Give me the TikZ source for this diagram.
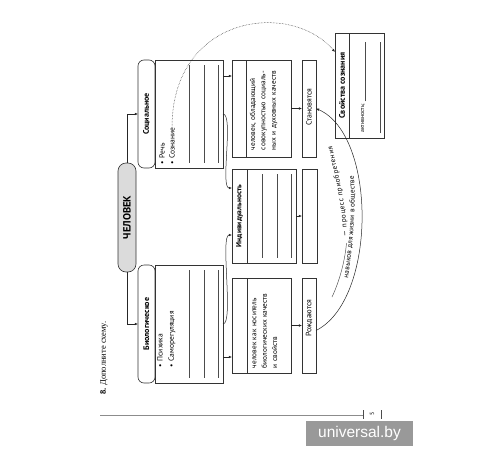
\documentclass[tikz,border=0pt]{standalone}
\usepackage{fontspec}
\setmainfont{PT Sans}
\newfontfamily\seriffont{Liberation Serif}
\newfontfamily\wmfont{Liberation Sans}
\usetikzlibrary{arrows.meta,decorations.text}
\newcommand{\jl}[1]{\makebox[\linewidth][s]{#1}}
\newcommand{\arcfont}{\fontsize{7.2}{8}\selectfont}
\begin{document}
\begin{tikzpicture}[x=1pt,y=-1pt,
  frame/.style={draw=black!80,line width=0.6pt},
  wl/.style={draw=black!70,line width=0.45pt},
  arr/.style={draw=black!85,line width=0.5pt,-{Latex[length=3.2pt,width=2.6pt]}},
  geo/.style={inner sep=0pt,outer sep=0pt,anchor=north west},
  hdr/.style={rotate=90,inner sep=0pt,font=\bfseries\fontsize{8}{9}\selectfont},
  txt/.style={rotate=90,inner sep=0pt,font=\fontsize{7.5}{9}\selectfont},
  body/.style={rotate=90,inner sep=0pt,font=\fontsize{7.3}{10.4}\selectfont,text width=88pt,align=left},
]
\path[use as bounding box, fill=white] (0,0) rectangle (500,450);

% task title
\node[rotate=90,anchor=west,inner sep=0pt,font=\seriffont\fontsize{8.5}{10}\selectfont] (task) at (104,395) {\textbf{8.} Дополните схему.};

% ЧЕЛОВЕК
\node[geo, frame, fill=black!14, rounded corners=8pt, minimum width=18pt, minimum height=109pt] (chel) at (118,163) {};
\node[hdr, font=\bfseries\fontsize{10.5}{12}\selectfont] (chelt) at (chel.center) {ЧЕЛОВЕК};

% Социальное
\node[geo, minimum width=85pt, minimum height=108pt] (soc) at (138,60) {};
\draw[frame] ([xshift=17pt]soc.north west) rectangle (soc.south east);
\draw[frame, rounded corners=6pt] (soc.north west) rectangle ([xshift=17pt]soc.south west);
\node[hdr] (soct) at ([xshift=8.5pt]soc.west) {Социальное};
\node[txt, anchor=west] (rech) at (162,165) {\textbullet\hspace{3pt}Речь};
\node[txt, anchor=west] (soz) at (172,165) {\textbullet\hspace{3pt}Сознание};
\foreach \x in {189,204,218} \draw[wl] (\x,65) -- (\x,163);

% Биологическое
\node[geo, minimum width=85pt, minimum height=118pt] (bio) at (138,265) {};
\draw[frame] ([xshift=17pt]bio.north west) rectangle (bio.south east);
\draw[frame, rounded corners=6pt] (bio.north west) rectangle ([xshift=17pt]bio.south west);
\node[hdr] (biot) at ([xshift=8.5pt]bio.west) {Биологическое};
\node[txt, anchor=west] (psy) at (160,368) {\textbullet\hspace{3pt}Психика};
\node[txt, anchor=west] (samo) at (172,368) {\textbullet\hspace{3pt}Саморегуляция};
\foreach \x in {189,204,218} \draw[wl] (\x,270) -- (\x,378);

% column 2
\node[geo, frame, minimum width=59pt, minimum height=97pt] (top) at (232,60) {};
\draw[frame] ([xshift=14pt]top.north west) -- ([xshift=14pt]top.south west);
\node[body] (topt) at (263.5,106) {\jl{человек, обладающий}\\\jl{совокупностью социаль-}\\\jl{ных и духовных качеств}};

\node[geo, frame, minimum width=64pt, minimum height=94pt] (mid) at (232,169) {};
\draw[frame] ([xshift=15pt]mid.north west) -- ([xshift=15pt]mid.south west);
\node[hdr, font=\bfseries\fontsize{7.5}{9}\selectfont] (midt) at ([xshift=7.5pt]mid.west) {Индивидуальность};
\foreach \x in {262,277,291} \draw[wl] (\x,174) -- (\x,258);

\node[geo, frame, minimum width=59pt, minimum height=95pt] (bot) at (232,278) {};
\draw[frame] ([xshift=15pt]bot.north west) -- ([xshift=15pt]bot.south west);
\node[body] (bott) at (265,324) {\jl{человек как носитель}\\\jl{биологических качеств}\\и свойств};

% column 3
\node[geo, frame, minimum width=14pt, minimum height=97pt] (stan) at (302,60) {};
\node[txt, font=\fontsize{7.8}{9}\selectfont] (stant) at (309,107) {Становятся};
\node[geo, frame, minimum width=15pt, minimum height=94pt] (smid) at (302,169) {};
\node[geo, frame, minimum width=14pt, minimum height=95pt] (rozh) at (302,278) {};
\node[txt, font=\fontsize{7.8}{9}\selectfont] (rozht) at (309,318) {Рождаются};

% Свойства сознания
\node[geo, frame, minimum width=49pt, minimum height=105pt] (svo) at (335,33) {};
\draw[frame] ([xshift=14pt]svo.north west) -- ([xshift=14pt]svo.south west);
\node[hdr, font=\bfseries\fontsize{8}{9}\selectfont] (svot) at ([xshift=7pt]svo.west) {Свойства сознания};
\node[txt, anchor=west, font=\fontsize{5.8}{7}\selectfont] (akt) at (363,133) {активность;};
\draw[wl] ([xshift=2.5pt,yshift=2pt]akt.east) -- (365.5,42);
\draw[wl] (380,133) -- (380,42);

% connectors
\draw[arr] (chel.north) |- (soc.west);
\draw[arr] (chel.south) |- (bio.west);
\draw[arr] ([yshift=38pt]soc.east) -- ([yshift=38pt]soc.east -| top.west);
\draw[arr] ([yshift=-33pt]bio.east) -- ([yshift=-33pt]bio.east -| bot.west);
\draw[arr] (soc.east) .. controls +(11,0) and +(-12,0) .. ([yshift=28pt]mid.west);
\draw[arr] (bio.east) .. controls +(11,0) and +(-12,0) .. ([yshift=-19pt]mid.west);
\draw[arr] (top.east) -- (stan.west);
\draw[arr] (mid.east) -- (smid.west);
\draw[arr] (bot.east) -- (rozh.west);
\draw[arr, densely dotted] ([yshift=1pt]soz.east) .. controls (173,15) and (290,0) .. ([yshift=33.5pt]svo.west);
\draw[arr] ([yshift=-5pt]rozh.east) .. controls (377,300) and (377,135) .. (stan.east);

% arc text
\path[decorate, decoration={text along path, text align={fit to path}, text={|\arcfont|навыков для жизни в обществе}}] (348,278) .. controls (353,245) and (356,210) .. (354,176);
\path[decorate, decoration={text along path, text align={fit to path}, text={|\arcfont|— процесс приобретения}}] (347,236) .. controls (346,205) and (338,172) .. (332,146);
\draw[wl] (332,297) .. controls (340,280) and (345,260) .. (346.5,243);

% footer
\draw[black!45, line width=0.5pt] (100,415) -- (363,415);
\draw[black!70, line width=0.6pt] (363,410) -- (363,419) (381,410) -- (381,419);
\node[rotate=90, font=\fontsize{6}{7}\selectfont, inner sep=0pt] (pg) at (372,414) {5};
\node[geo, fill=black!40, minimum width=107pt, minimum height=25pt, text=white, font=\wmfont\fontsize{15.5}{16}\selectfont] (wm) at (306,421) {universal.by};
\end{tikzpicture}
\end{document}
